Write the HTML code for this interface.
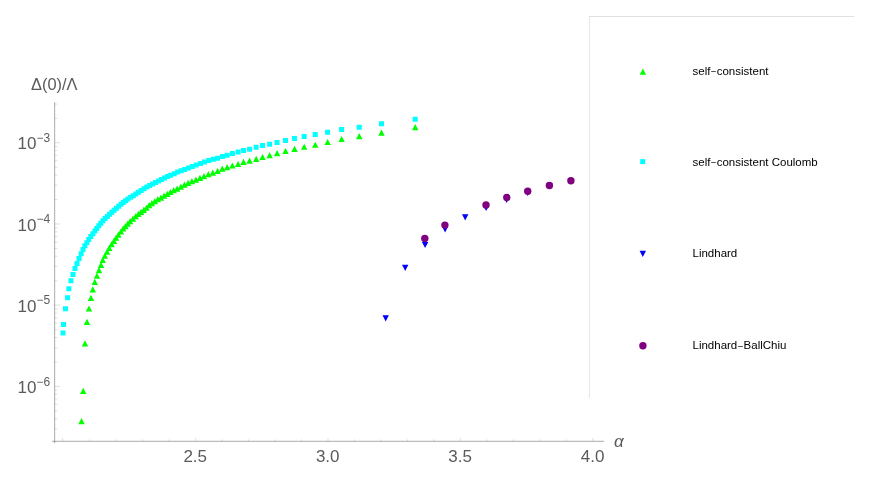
<!DOCTYPE html>
<html lang="en">
<head>
<meta charset="utf-8">
<title>Gap vs coupling</title>
<style>
html,body{margin:0;padding:0;background:#fff;}
body{width:872px;height:485px;overflow:hidden;font-family:"Liberation Sans",sans-serif;}
svg{display:block;will-change:transform;opacity:0.999;}
</style>
</head>
<body>
<svg width="872" height="485" viewBox="0 0 872 485" font-family="Liberation Sans, sans-serif">
<rect width="872" height="485" fill="#fff"/>
<path d="M589 16.5H854" fill="none" stroke="#e0e0e0" stroke-width="1"/>
<path d="M589.4 16V398" fill="none" stroke="#e6e6e6" stroke-width="1"/>
<g stroke="#666666" stroke-width="0.55" fill="none">
<path d="M54.66 102.2V443.3"/>
<path d="M52.0 441.3H604.0"/>
</g>
<path d="M62.60 441.3v-3.3M89.59 441.3v-1.9M116.08 441.3v-1.9M142.57 441.3v-1.9M169.06 441.3v-1.9M195.55 441.3v-3.3M222.04 441.3v-1.9M248.53 441.3v-1.9M275.02 441.3v-1.9M301.51 441.3v-1.9M328.00 441.3v-3.3M354.49 441.3v-1.9M380.98 441.3v-1.9M407.47 441.3v-1.9M433.96 441.3v-1.9M460.45 441.3v-3.3M486.94 441.3v-1.9M513.43 441.3v-1.9M539.92 441.3v-1.9M566.41 441.3v-1.9M592.90 441.3v-3.3M54.66 428.86h2.7M54.66 418.71h2.7M54.66 410.84h2.7M54.66 404.41h2.7M54.66 398.98h2.7M54.66 394.27h2.7M54.66 390.12h2.7M54.66 386.40h5.4M54.66 361.96h2.7M54.66 347.66h2.7M54.66 337.51h2.7M54.66 329.64h2.7M54.66 323.21h2.7M54.66 317.78h2.7M54.66 313.07h2.7M54.66 308.92h2.7M54.66 305.20h5.4M54.66 280.76h2.7M54.66 266.46h2.7M54.66 256.31h2.7M54.66 248.44h2.7M54.66 242.01h2.7M54.66 236.58h2.7M54.66 231.87h2.7M54.66 227.72h2.7M54.66 224.00h5.4M54.66 199.56h2.7M54.66 185.26h2.7M54.66 175.11h2.7M54.66 167.24h2.7M54.66 160.81h2.7M54.66 155.38h2.7M54.66 150.67h2.7M54.66 146.52h2.7M54.66 142.80h5.4M54.66 118.36h2.7M54.66 104.06h2.7" stroke="#666666" stroke-width="0.21" fill="none"/>
<g fill="#5a5a5a" font-size="17">
<text x="195.2" y="462.3" text-anchor="middle">2.5</text>
<text x="327.7" y="462.3" text-anchor="middle">3.0</text>
<text x="460.1" y="462.3" text-anchor="middle">3.5</text>
<text x="592.6" y="462.3" text-anchor="middle">4.0</text>
<text x="17.5" y="149.4">10<tspan font-size="12" dy="-7.4">−3</tspan></text>
<text x="17.5" y="230.6">10<tspan font-size="12" dy="-7.4">−4</tspan></text>
<text x="17.5" y="311.8">10<tspan font-size="12" dy="-7.4">−5</tspan></text>
<text x="17.5" y="393.0">10<tspan font-size="12" dy="-7.4">−6</tspan></text>
<text x="31" y="89.8" font-size="16.4">Δ(0)/Λ</text>
<text x="613.9" y="447" font-style="italic" font-size="17">α</text>
</g>
<path fill="#00ff00" d="M78.30 424.30h6.4L81.50 418.10zM80.00 394.00h6.4L83.20 387.80zM81.80 346.40h6.4L85.00 340.20zM83.79 325.05h6.4L86.99 318.85zM85.77 311.59h6.4L88.97 305.39zM87.75 301.04h6.4L90.95 294.84zM89.60 292.50h6.4L92.80 286.30zM91.60 285.05h6.4L94.80 278.85zM93.75 278.85h6.4L96.95 272.65zM95.80 273.30h6.4L99.00 267.10zM97.80 267.90h6.4L101.00 261.70zM99.56 263.10h6.4L102.76 256.90zM101.60 258.80h6.4L104.80 252.60zM103.89 254.80h6.4L107.09 248.60zM106.05 250.90h6.4L109.25 244.70zM108.40 247.20h6.4L111.60 241.00zM110.69 243.90h6.4L113.89 237.70zM112.85 240.85h6.4L116.05 234.65zM115.20 237.75h6.4L118.40 231.55zM117.71 234.50h6.4L120.91 228.30zM119.99 231.60h6.4L123.19 225.40zM122.22 229.15h6.4L125.42 222.95zM124.51 226.70h6.4L127.71 220.50zM126.98 224.30h6.4L130.18 218.10zM129.76 221.70h6.4L132.96 215.50zM132.54 219.25h6.4L135.74 213.05zM135.20 217.00h6.4L138.40 210.80zM137.80 214.90h6.4L141.00 208.70zM140.58 212.90h6.4L143.78 206.70zM143.25 210.85h6.4L146.45 204.65zM145.95 208.25h6.4L149.15 202.05zM148.67 206.20h6.4L151.87 200.00zM151.63 204.15h6.4L154.83 197.95zM154.60 202.30h6.4L157.80 196.10zM157.69 200.65h6.4L160.89 194.45zM160.91 198.80h6.4L164.11 192.60zM164.12 196.95h6.4L167.32 190.75zM167.21 195.10h6.4L170.41 188.90zM170.49 193.20h6.4L173.69 187.00zM173.89 191.65h6.4L177.09 185.45zM177.65 189.70h6.4L180.85 183.50zM181.26 187.75h6.4L184.46 181.55zM184.88 186.02h6.4L188.08 179.82zM188.68 184.25h6.4L191.88 178.05zM192.70 182.70h6.4L195.90 176.50zM196.72 180.95h6.4L199.92 174.75zM200.74 179.25h6.4L203.94 173.05zM205.15 177.18h6.4L208.35 170.98zM209.60 175.75h6.4L212.80 169.55zM214.37 173.90h6.4L217.57 167.70zM219.10 171.80h6.4L222.30 165.60zM223.95 170.20h6.4L227.15 164.00zM229.15 168.60h6.4L232.35 162.40zM234.86 167.10h6.4L238.06 160.90zM240.30 165.00h6.4L243.50 158.80zM246.36 163.65h6.4L249.56 157.45zM253.00 161.95h6.4L256.20 155.75zM259.34 160.10h6.4L262.54 153.90zM266.41 158.13h6.4L269.61 151.93zM273.89 156.19h6.4L277.09 149.99zM282.33 154.12h6.4L285.53 147.92zM291.37 152.01h6.4L294.57 145.81zM300.98 149.85h6.4L304.18 143.65zM312.03 147.87h6.4L315.23 141.67zM324.40 145.11h6.4L327.60 138.91zM338.41 142.10h6.4L341.61 135.90zM356.06 139.22h6.4L359.26 133.02zM378.30 135.80h6.4L381.50 129.60zM412.00 130.30h6.4L415.20 124.10z"/>
<path fill="#00ffff" d="M60.53 330.39h5.0v5.0h-5.0zM60.98 321.88h5.0v5.0h-5.0zM63.00 306.23h5.0v5.0h-5.0zM65.08 295.19h5.0v5.0h-5.0zM66.39 286.29h5.0v5.0h-5.0zM68.47 278.27h5.0v5.0h-5.0zM70.45 271.99h5.0v5.0h-5.0zM72.53 265.90h5.0v5.0h-5.0zM74.51 260.95h5.0v5.0h-5.0zM76.59 256.00h5.0v5.0h-5.0zM78.67 251.29h5.0v5.0h-5.0zM80.50 247.00h5.0v5.0h-5.0zM82.34 243.16h5.0v5.0h-5.0zM84.38 240.21h5.0v5.0h-5.0zM86.29 237.04h5.0v5.0h-5.0zM88.24 234.09h5.0v5.0h-5.0zM90.40 231.30h5.0v5.0h-5.0zM92.42 228.49h5.0v5.0h-5.0zM94.27 226.02h5.0v5.0h-5.0zM96.31 223.24h5.0v5.0h-5.0zM98.29 220.77h5.0v5.0h-5.0zM100.46 218.29h5.0v5.0h-5.0zM102.62 216.00h5.0v5.0h-5.0zM104.91 213.96h5.0v5.0h-5.0zM107.13 211.80h5.0v5.0h-5.0zM109.42 209.64h5.0v5.0h-5.0zM111.60 207.70h5.0v5.0h-5.0zM113.90 205.85h5.0v5.0h-5.0zM116.18 203.64h5.0v5.0h-5.0zM118.53 201.78h5.0v5.0h-5.0zM120.82 199.93h5.0v5.0h-5.0zM123.11 198.20h5.0v5.0h-5.0zM125.46 196.53h5.0v5.0h-5.0zM128.11 194.86h5.0v5.0h-5.0zM130.71 193.13h5.0v5.0h-5.0zM133.37 191.40h5.0v5.0h-5.0zM135.97 189.73h5.0v5.0h-5.0zM138.75 188.00h5.0v5.0h-5.0zM141.53 186.33h5.0v5.0h-5.0zM144.31 184.60h5.0v5.0h-5.0zM147.12 182.96h5.0v5.0h-5.0zM150.07 181.51h5.0v5.0h-5.0zM153.04 179.91h5.0v5.0h-5.0zM156.13 178.42h5.0v5.0h-5.0zM159.10 177.00h5.0v5.0h-5.0zM162.00 175.58h5.0v5.0h-5.0zM165.09 174.10h5.0v5.0h-5.0zM168.18 172.67h5.0v5.0h-5.0zM171.71 171.13h5.0v5.0h-5.0zM175.17 169.58h5.0v5.0h-5.0zM178.69 168.35h5.0v5.0h-5.0zM182.12 166.98h5.0v5.0h-5.0zM186.00 165.62h5.0v5.0h-5.0zM189.77 164.07h5.0v5.0h-5.0zM193.72 162.53h5.0v5.0h-5.0zM197.93 160.98h5.0v5.0h-5.0zM201.95 159.44h5.0v5.0h-5.0zM206.28 158.02h5.0v5.0h-5.0zM210.73 156.66h5.0v5.0h-5.0zM215.10 155.70h5.0v5.0h-5.0zM219.98 154.11h5.0v5.0h-5.0zM224.68 152.69h5.0v5.0h-5.0zM229.93 150.96h5.0v5.0h-5.0zM235.56 149.60h5.0v5.0h-5.0zM241.00 148.05h5.0v5.0h-5.0zM247.06 146.63h5.0v5.0h-5.0zM253.65 144.80h5.0v5.0h-5.0zM260.04 143.08h5.0v5.0h-5.0zM267.11 141.82h5.0v5.0h-5.0zM274.56 139.88h5.0v5.0h-5.0zM282.99 138.01h5.0v5.0h-5.0zM291.93 135.97h5.0v5.0h-5.0zM301.68 134.03h5.0v5.0h-5.0zM312.73 132.01h5.0v5.0h-5.0zM325.10 129.78h5.0v5.0h-5.0zM339.11 127.02h5.0v5.0h-5.0zM356.76 124.79h5.0v5.0h-5.0zM379.00 121.20h5.0v5.0h-5.0zM412.70 116.70h5.0v5.0h-5.0z"/>
<path fill="#0000ff" d="M382.50 315.30h6.4L385.70 321.50zM402.00 264.70h6.4L405.20 270.90zM421.90 241.90h6.4L425.10 248.10zM441.90 226.20h6.4L445.10 232.40zM462.00 214.30h6.4L465.20 220.50zM482.90 204.90h6.4L486.10 211.10zM503.40 196.90h6.4L506.60 203.10zM524.40 189.80h6.4L527.60 196.00zM546.20 183.10h6.4L549.40 189.30zM567.60 178.00h6.4L570.80 184.20z"/>
<g fill="#800080"><circle cx="424.8" cy="238.4" r="3.7"/><circle cx="444.9" cy="225.1" r="3.7"/><circle cx="486.0" cy="205.0" r="3.7"/><circle cx="506.8" cy="197.5" r="3.7"/><circle cx="527.75" cy="191.2" r="3.7"/><circle cx="549.4" cy="185.45" r="3.7"/><circle cx="570.9" cy="180.7" r="3.7"/></g>
<path fill="#00ff00" d="M639.70 74.75h6.4L642.90 68.55z"/>
<path fill="#00ffff" d="M640.20 159.10h5.0v5.0h-5.0z"/>
<path fill="#0000ff" d="M639.60 250.80h6.4L642.80 257.00z"/>
<circle fill="#800080" cx="642.9" cy="345.7" r="3.7"/>
<g fill="#000" font-size="11.5">
<text x="692.5" y="74.6">self<tspan font-size="9.6" dx="0.45" dy="0.6">−</tspan><tspan dx="0.25" dy="-0.6">consistent</tspan></text>
<text x="692.5" y="165.8">self<tspan font-size="9.6" dx="0.45" dy="0.6">−</tspan><tspan dx="0.25" dy="-0.6">consistent Coulomb</tspan></text>
<text x="692.5" y="257.2">Lindhard</text>
<text x="692.5" y="349.1">Lindhard<tspan font-size="9.6" dx="0.45" dy="0.6">−</tspan><tspan dx="0.25" dy="-0.6">BallChiu</tspan></text>
</g>
</svg>
</body>
</html>
